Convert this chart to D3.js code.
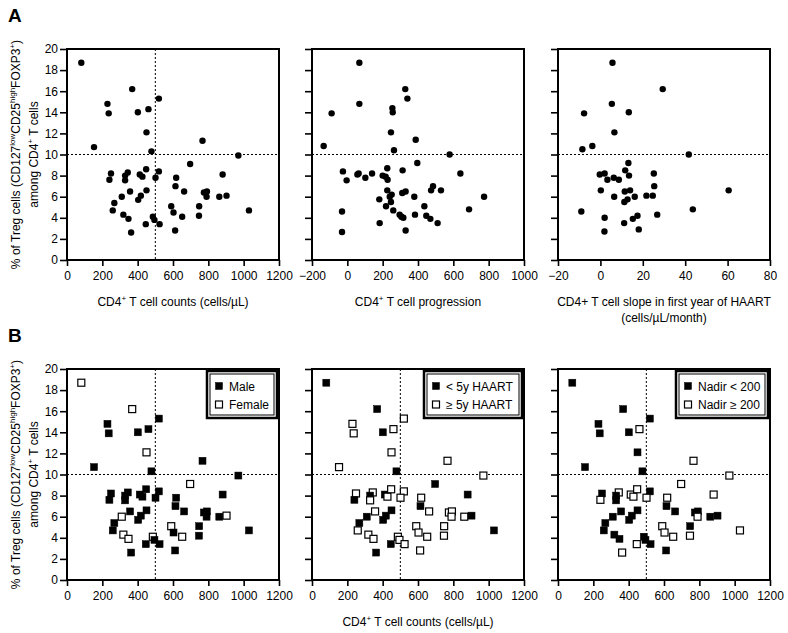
<!DOCTYPE html>
<html><head><meta charset="utf-8">
<script src="https://cdn.jsdelivr.net/npm/d3@7"></script>
<style>
body{margin:0;background:#fff}
svg{display:block}
text{font-family:"Liberation Sans",Arial,sans-serif;fill:#000}
</style>
</head><body>
<svg id="c" width="788" height="633"></svg>
<script>
// ---- data ----
const cd4Counts=[81,369,520,229,461,236,401,450,767,153,478,970,697,249,240,344,329,329,412,427,448,520,501,618,881,614,663,357,450,310,418,403,268,259,319,348,363,446,486,495,524,590,603,652,612,748,747,775,792,790,862,903,1030];
const tregPct=[18.7,16.2,15.3,14.8,14.3,13.9,14.0,12.1,11.3,10.7,10.3,9.9,9.1,8.2,7.6,8.3,8.0,7.55,8.1,7.9,8.6,8.4,7.8,7.8,8.1,7.0,6.5,6.5,6.6,6.0,6.1,5.7,5.4,4.7,4.3,3.9,2.6,3.4,4.1,3.8,3.4,5.1,4.5,4.1,2.8,5.1,4.2,6.4,6.5,6.0,6.0,6.1,4.7];
// 1 = Female, 0 = Male
const female=[1,1,0,0,0,0,0,1,0,0,0,0,1,0,0,0,0,0,0,0,0,0,0,0,0,0,0,0,0,1,0,0,0,0,1,1,0,0,1,0,0,1,0,1,0,0,0,0,0,0,0,1,0];
// 1 = < 5y HAART, 0 = >= 5y HAART
const haartUnder5=[1,1,0,0,0,0,1,0,0,0,1,0,1,0,1,0,1,0,1,0,0,0,0,0,1,1,0,0,1,1,1,1,1,0,0,0,1,1,0,0,0,0,0,0,0,0,0,0,0,0,0,1,1];
// 1 = Nadir < 200, 0 = Nadir >= 200
const nadirUnder200=[1,1,1,1,0,1,1,1,0,1,1,0,0,1,0,0,1,1,0,0,0,1,0,0,0,1,1,1,1,1,1,1,1,1,1,1,0,0,1,1,1,0,0,0,1,1,0,1,1,0,1,1,0];

const progX=[68,328,340,68,-89,255,257,247,387,-134,264,579,396,-25,-4,57,64,102,140,200,226,217,228,313,640,226,251,330,311,240,181,247,379,485,474,530,774,219,260,436,-30,296,306,317,383,447,470,183,511,330,-30,689];
const progY=[18.7,16.2,15.3,14.8,13.9,14.4,14.0,12.1,11.4,10.8,10.4,10.0,9.2,8.4,7.55,8.1,8.2,7.8,8.2,8.0,8.7,7.9,7.6,8.5,8.2,6.6,6.2,6.5,6.35,6.0,5.75,5.5,6.0,7.0,6.6,6.6,6.0,5.1,4.7,5.1,4.6,4.3,4.1,4.0,4.3,4.2,3.9,3.5,3.5,2.8,2.65,4.8];

const slopeX=[5.7,29.4,5.4,-7.7,13.4,6.6,-3.8,-8.5,41.7,13.2,-0.3,2.0,11.7,13.5,25.2,3.3,6.3,8.7,25.4,0.2,11.5,14.0,6.5,16.2,21.7,24.7,11.3,12.8,60.5,-9.0,43.6,2.0,15.3,17.5,26.8,11.2,18.1,1.9];
const slopeY=[18.7,16.2,14.8,13.9,14.0,12.1,10.8,10.5,10.0,9.2,8.1,8.2,8.5,8.0,8.2,7.6,7.8,7.6,7.0,6.6,6.5,6.6,6.0,6.0,6.1,6.1,5.5,5.75,6.6,4.6,4.8,4.0,3.9,4.2,4.3,3.5,2.9,2.7];

const yTicks=[0,2,4,6,8,10,12,14,16,18,20];
const countTicks=[0,200,400,600,800,1000,1200];
const progTicks=[-200,0,200,400,600,800,1000];
const slopeTicks=[-20,0,20,40,60,80];
const yThreshold=10, countThreshold=500;

const legendSex=["Male","Female"];
const legendHaart=["< 5y HAART","\u2265 5y HAART"];
const legendNadir=["Nadir < 200","Nadir \u2265 200"];

// ---- layout ----
const svg=d3.select("#c");
const FONT='"Liberation Sans",Arial,sans-serif';
const PW=212, PH=211;
const colX=[67,312,558], rowY=[49,369];

function sup(t, base, s){ // base text then superscript
  t.append("tspan").text(base);
}
function addRich(textSel, parts){
  parts.forEach(p=>{
    const ts=textSel.append("tspan").text(p[0]);
    if(p[1]==="sup"){ ts.attr("font-size",8).attr("dy",-5); }
    else if(p[1]==="back"){ ts.attr("dy",5); }
  });
}

function panel(opt){
  const g=svg.append("g").attr("transform",`translate(${opt.left},${opt.top})`);
  const x=d3.scaleLinear().domain(opt.xDomain).range([0,PW]);
  const y=d3.scaleLinear().domain([0,20]).range([PH,0]);

  // axes
  const ya=d3.axisLeft(y).tickValues(yTicks).tickSize(7).tickPadding(2);
  if(!opt.yLabels) ya.tickFormat("");
  const yg=g.append("g").call(ya);
  const xa=d3.axisBottom(x).tickValues(opt.xTicks).tickSize(6).tickPadding(5).tickFormat(d3.format("d"));
  const xg=g.append("g").attr("transform",`translate(0,${PH})`).call(xa);
  [yg,xg].forEach(a=>{
    a.select(".domain").remove();
    a.selectAll(".tick line").attr("stroke","#000").attr("stroke-width",1.6);
    a.selectAll(".tick text").attr("font-size",12).attr("font-family",FONT).attr("fill","#000");
  });

  // reference lines
  g.append("line").attr("x1",0).attr("x2",PW).attr("y1",y(yThreshold)).attr("y2",y(yThreshold))
    .attr("stroke","#000").attr("stroke-width",1).attr("stroke-dasharray","2,2");
  if(opt.vRef){
    g.append("line").attr("x1",x(countThreshold)).attr("x2",x(countThreshold)).attr("y1",0).attr("y2",PH)
      .attr("stroke","#000").attr("stroke-width",1).attr("stroke-dasharray","2,2");
  }

  // frame
  g.append("rect").attr("x",0).attr("y",0).attr("width",PW).attr("height",PH)
    .attr("fill","none").attr("stroke","#000").attr("stroke-width",2);

  // points
  const data=opt.xs.map((v,i)=>({x:v,y:opt.ys[i],open:opt.open?opt.open(i):false}));
  if(opt.shape==="circle"){
    g.selectAll("circle.pt").data(data).join("circle").attr("class","pt")
      .attr("cx",d=>x(d.x)).attr("cy",d=>y(d.y)).attr("r",3.2).attr("fill","#000");
  } else {
    const s=7;
    g.selectAll("rect.pt").data(data).join("rect").attr("class","pt")
      .attr("x",d=>x(d.x)-s/2).attr("y",d=>y(d.y)-s/2).attr("width",s).attr("height",s)
      .attr("fill",d=>d.open?"#fff":"#000").attr("stroke","#000").attr("stroke-width",d=>d.open?1.2:0.5);
  }

  // x title
  if(opt.xTitle){
    opt.xTitle.forEach((parts,k)=>{
      const t=g.append("text").attr("x",PW/2).attr("y",PH+46+k*16).attr("text-anchor","middle")
        .attr("font-size",12);
      addRich(t,parts);
    });
  }

  // legend
  if(opt.legend){
    const lw=opt.legend.w, lh=47;
    const lx=PW-2-lw, ly=2;
    const lg=g.append("g").attr("transform",`translate(${lx},${ly})`);
    lg.append("rect").attr("width",lw).attr("height",lh).attr("fill","#fff").attr("stroke","#000").attr("stroke-width",2.5);
    lg.append("rect").attr("x",3).attr("y",3).attr("width",lw-6).attr("height",lh-6).attr("fill","none").attr("stroke","#000").attr("stroke-width",1);
    opt.legend.labels.forEach((lab,k)=>{
      const cy=15+k*18.5;
      lg.append("rect").attr("x",12-3.5).attr("y",cy-3.5).attr("width",7).attr("height",7)
        .attr("fill",k===0?"#000":"#fff").attr("stroke","#000").attr("stroke-width",k===0?0.5:1.2);
      lg.append("text").attr("x",22).attr("y",cy+4.5).attr("font-size",12).text(lab);
    });
  }
  return g;
}

const countTitle=[[ "CD4","" ],["+","sup"],[" T cell counts (cells/\u00b5L)","back"]];

// Row A
panel({left:colX[0],top:rowY[0],xDomain:[0,1200],xTicks:countTicks,yLabels:true,vRef:true,
  xs:cd4Counts,ys:tregPct,shape:"circle",xTitle:[countTitle]});
panel({left:colX[1],top:rowY[0],xDomain:[-200,1000],xTicks:progTicks,yLabels:false,vRef:false,
  xs:progX,ys:progY,shape:"circle",xTitle:[[["CD4",""],["+","sup"],[" T cell progression","back"]]]});
panel({left:colX[2],top:rowY[0],xDomain:[-20,80],xTicks:slopeTicks,yLabels:false,vRef:false,
  xs:slopeX,ys:slopeY,shape:"circle",xTitle:[[["CD4+ T cell slope in first year of HAART",""]],[["(cells/\u00b5L/month)",""]]]});

// Row B
panel({left:colX[0],top:rowY[1],xDomain:[0,1200],xTicks:countTicks,yLabels:true,vRef:true,
  xs:cd4Counts,ys:tregPct,shape:"square",open:i=>female[i]===1,legend:{w:70,labels:legendSex}});
panel({left:colX[1],top:rowY[1],xDomain:[0,1200],xTicks:countTicks,yLabels:false,vRef:true,
  xs:cd4Counts,ys:tregPct,shape:"square",open:i=>haartUnder5[i]===0,legend:{w:98,labels:legendHaart},xTitle:[countTitle]});
panel({left:colX[2],top:rowY[1],xDomain:[0,1200],xTicks:countTicks,yLabels:false,vRef:true,
  xs:cd4Counts,ys:tregPct,shape:"square",open:i=>nadirUnder200[i]===0,legend:{w:92,labels:legendNadir}});

// y titles
rowY.forEach(top=>{
  const cy=top+PH/2;
  const t1=svg.append("text").attr("transform",`translate(20,${cy}) rotate(-90)`).attr("text-anchor","middle").attr("font-size",12);
  addRich(t1,[["% of Treg cells (CD127",""],["low","sup"],["CD25","back"],["high","sup"],["FOXP3","back"],["+","sup"],[")","back"]]);
  const t2=svg.append("text").attr("transform",`translate(38,${cy}) rotate(-90)`).attr("text-anchor","middle").attr("font-size",12);
  addRich(t2,[["among CD4",""],["+","sup"],[" T cells","back"]]);
});

// panel letters
svg.append("text").attr("x",8).attr("y",22).attr("font-size",19).attr("font-weight","bold").text("A");
svg.append("text").attr("x",8).attr("y",342).attr("font-size",19).attr("font-weight","bold").text("B");
</script>
</body></html>
